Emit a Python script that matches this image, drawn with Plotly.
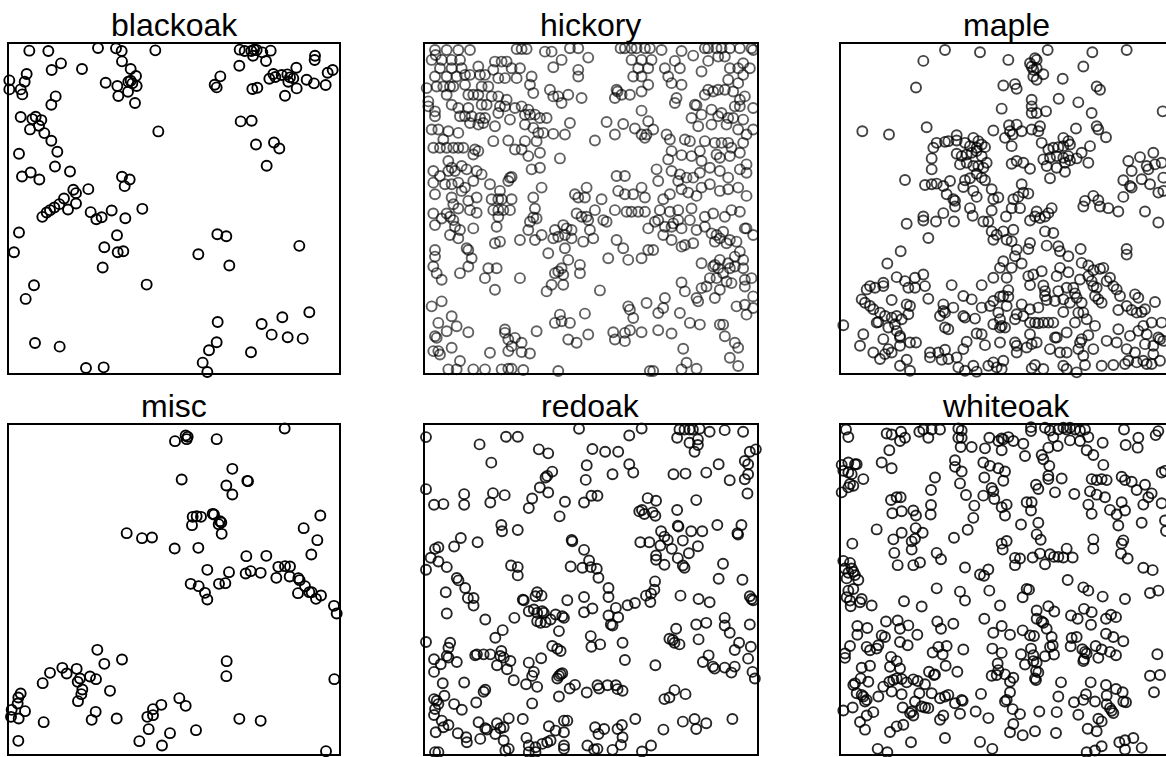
import plotly.graph_objects as go

# Tree locations in the Lansing Woods plot, one list per species.
# Coordinates on a 0-1000 scale per panel.
blackoak = [(61,966),(118,965),(267,974),(321,973),(338,965),(439,967),(156,928),(128,908),(219,911),(339,934),(365,911),(381,890),(53,896),(47,873),(1,877),(1,850),(35,850),(40,835),(290,870),(325,860),(358,873),(365,876),(370,868),(383,860),(357,843),(328,830),(378,809),(140,829),(127,804),(35,767),(70,761),(80,768),(97,758),(90,741),(63,730),(106,719),(127,696),(145,663),(30,657),(448,724),(138,619),(183,604),(65,601),(39,589),(91,580),(339,588),(362,580),(347,560),(238,551),(193,549),(201,539),(165,523),(151,506),(136,496),(123,488),(113,481),(100,468),(177,490),(201,508),(245,482),(262,461),(278,467),(308,487),(349,464),(400,492),(30,421),(15,362),(324,413),(286,377),(326,362),(343,365),(281,316),(413,265),(75,263),(50,222),(78,90),(152,79),(231,15),(284,17),
            (692,969),(707,965),(727,965),(735,969),(743,968),(732,951),(760,961),(785,966),(771,935),(691,921),(918,951),(917,938),(862,915),(634,889),(617,864),(623,856),(730,851),(745,855),(781,882),(793,896),(799,887),(818,893),(835,895),(843,886),(853,883),(838,873),(863,853),(828,831),(893,879),(915,868),(950,863),(956,900),(971,908),(695,754),(728,756),(741,685),(795,691),(811,673),(773,621),(625,416),(652,410),(568,356),(661,322),(871,381),(901,182),(820,167),(758,147),(788,115),(836,107),(881,103),(626,153),(623,92),(600,68),(726,62),(581,31),(595,3)]

misc = [(827,975),(498,937),(530,954),(536,950),(533,943),(623,943),(670,854),(518,822),(652,804),(670,777),(715,818),(717,817),(551,710),(563,712),(576,710),(549,685),(611,719),(615,717),(633,697),(637,693),(629,688),(638,659),(353,661),(399,646),(429,648),(497,615),(568,617),(934,714),(884,676),(925,640),(907,597),(712,592),(772,593),(595,551),(660,544),(710,540),(725,547),(755,542),(545,509),(569,502),(588,482),(595,462),(630,509),(649,511),(808,560),(828,562),(843,561),(802,527),(842,531),(868,526),(872,520),(888,502),(901,484),(908,484),(867,481),(921,464),(936,474),(975,443),(983,420),(265,311),(339,282),(286,269),(123,242),(101,211),(160,257),(173,240),(203,254),(243,231),(261,223),(213,225),(206,215),(220,192),(217,178),(207,157),(303,188),(35,180),(28,168),(26,150),(8,131),(6,110),(29,105),(48,127),(104,94),(260,125),(248,101),(323,105),(28,38),(653,277),(652,232),(976,223),(511,166),(530,143),(457,146),(432,133),(415,110),(432,115),(419,73),(391,37),(459,24),(483,61),(561,70),(691,104),(755,98),(951,7)]

hickory = [(30,982),(65,982),(100,982),(135,982),(32,967),(275,985),(290,985),(305,985),(360,977),(380,977),(410,952),(435,987),(460,987),(490,959),(587,987),(600,987),(620,987),(635,987),(660,987),(675,987),(710,982),(770,979),(805,965),(840,987),(850,987),(875,987),(890,987),(915,987),(945,987),(980,987),(880,962),(900,962),(985,982),
           (20,952),(50,952),(80,952),(105,952),(45,927),(80,927),(110,927),(160,932),(210,947),(230,947),(245,947),(205,922),(260,927),(285,927),(385,930),(460,922),(620,952),(650,952),(680,952),(640,927),(670,927),(720,927),(750,949),(765,927),(830,917),(850,949),(915,927),(940,927),(955,942),(975,927),
           (30,902),(65,902),(95,902),(120,907),(135,907),(165,907),(180,907),(220,897),(240,897),(275,897),(320,902),(460,902),(625,902),(650,902),(730,902),(910,892),(955,907),(940,882),
           (5,867),(35,872),(55,872),(75,872),(85,872),(120,877),(170,872),(190,872),(315,877),(670,877),(740,882),(770,877),(850,862),(880,862),(900,862),(925,857),
           (10,827),(65,847),(130,847),(145,847),(160,847),(200,842),(220,842),(245,832),(325,852),(375,862),(385,842),(400,842),(430,847),(470,837),(575,862),(578,857),(570,837),(590,847),(615,847),(650,857),(755,837),(750,822),(840,847),(865,857),(960,842),(945,832),
           (10,812),(30,797),(80,817),(100,807),(130,807),(170,817),(185,817),(225,812),(240,812),(270,807),(290,812),(310,802),(410,822),(810,817),(815,815),(860,802),(890,792),(930,812),(945,812),(985,807),
           (30,782),(105,782),(120,782),(140,782),(165,777),(180,777),(220,792),(255,772),(300,787),(315,787),(330,787),(345,777),(365,777),(435,762),(545,765),(595,759),(650,799),(670,767),(800,777),(830,787),(880,782),(910,777),(925,777),(955,772),
           (20,742),(40,742),(70,737),(100,732),(135,762),(160,757),(175,762),(210,752),(300,757),(325,747),(340,732),(355,732),(385,729),(420,727),(570,727),(630,745),(650,727),(665,727),(685,742),(725,727),(820,752),(860,757),(905,757),(940,742),(965,727),(985,742),
           (25,687),(45,687),(65,687),(85,687),(100,687),(115,687),(55,712),(205,707),(250,709),(270,682),(290,682),(300,707),(335,707),(510,709),(660,717),(735,712),(780,712),(795,707),(840,707),(870,702),(890,702),(910,702),(920,687),(955,702),(740,677),(150,682),
           (70,647),(145,667),(160,677),(310,662),(345,672),(405,655),(730,652),(770,665),(800,662),(825,677),(830,647),(875,667),(885,657),(915,662),(945,672),(965,637),(80,627),(110,632),(25,617),
           (45,602),(70,617),(90,617),(125,622),(155,617),(170,607),(255,597),(260,599),(320,622),(345,627),(575,602),(600,602),(695,622),(740,617),(765,607),(785,597),(805,597),(825,612),(855,627),(885,617),(910,597),(945,622),(965,612),(700,587),(760,587),
           (25,582),(60,577),(80,577),(100,582),(120,567),(145,587),(195,577),(225,557),(250,587),(350,567),(450,547),(460,537),(480,537),(485,567),(530,532),(580,557),(600,547),(625,547),(650,567),(660,537),(715,532),(735,547),(770,562),(790,552),(815,542),(830,567),(855,577),(885,557),(910,562),(940,567),(965,542),(110,557),(80,537),(30,547),
           (155,537),(200,532),(220,532),(230,532),(260,532),(325,537),(85,517),(130,527),
           (25,489),(65,489),(75,479),(100,504),(135,499),(155,491),(205,499),(220,499),(235,499),(255,499),(330,504),(220,479),(325,477),(455,489),(470,479),(485,479),(510,499),(570,499),(605,494),(620,494),(640,494),(660,494),(705,499),(735,494),(760,499),(800,504),(840,479),(865,489),(900,479),(920,499),(945,494),
           (30,454),(50,474),(85,469),(90,449),(105,439),(145,444),(215,449),(315,464),(335,474),(310,439),(390,439),(415,454),(425,444),(440,439),(490,469),(495,439),(535,469),(545,464),(670,444),(690,464),(700,469),(720,449),(740,449),(745,459),(760,469),(770,444),(795,469),(815,439),(840,449),(860,429),(875,424),(895,434),(915,409),(960,444),(985,424),
           (75,424),(100,414),(210,399),(225,404),(285,409),(330,409),(350,424),(385,414),(400,419),(420,424),(440,414),(475,404),(505,414),(575,409),(715,424),(740,409),(770,389),(780,394),(805,399),(870,404),(885,414),(905,399),(935,404),(965,444),
           (30,379),(30,359),(125,384),(130,379),(140,354),(370,369),(420,384),(430,349),(550,354),(595,384),(610,349),(650,354),(670,379),(685,379),(830,339),(870,334),(885,349),(910,339),(930,359),(945,374),(955,349),
           (25,329),(35,309),(50,289),(105,309),(130,329),(190,324),(215,324),(180,294),(285,294),(390,309),(400,314),(410,324),(415,304),(465,334),(465,309),(865,329),(880,324),(895,309),(915,324),(930,329),(955,324),(855,294),(875,294),(905,284),(920,279),(960,289),(980,294),
           (210,259),(365,254),(380,274),(415,274),(525,257),(770,281),(780,254),(830,264),(845,269),(885,259),(960,269),(815,234),(820,224),(870,234),(985,239),
           (20,209),(50,224),(610,209),(615,199),(665,219),(715,204),(720,234),(700,189),(765,189),(935,209),(960,214),(985,204),(965,184),(80,179),(405,184),(480,187),(625,174),
           (40,159),(65,134),(95,149),(130,131),(240,139),(240,129),(335,134),(390,159),(410,164),(435,159),(490,124),(565,131),(570,109),(600,129),(615,137),(650,131),(700,137),(740,127),(795,159),(825,154),(885,154),(895,154),(900,119),(30,119),
           (35,114),(250,109),(270,114),(290,99),(430,109),(455,99),(600,104),(80,84),(25,74),(40,74),(45,64),(250,74),(260,89),(195,69),(290,71),(315,67),(775,81),(930,99),(940,84),(915,54),
           (105,44),(70,19),(95,19),(145,19),(180,19),(180,4),(230,19),(250,21),(260,21),(295,17),(400,14),(675,14),(685,14),(770,19),(785,39),(815,21),(940,29)]

maple = [(312,982),(417,975),(502,952),(247,949),(567,942),(582,957),(587,952),(620,982),(754,975),(857,982),(727,932),
         (572,932),(577,922),(587,927),(607,909),(577,902),(587,892),(665,895),(487,875),(522,879),(527,865),(225,869),(767,872),(777,862),
         (572,832),(572,812),(572,792),(587,792),(615,797),(653,835),(712,824),(752,792),(482,805),(965,797),
         (64,737),(144,727),(257,749),(457,739),(504,755),(527,757),(507,737),(515,727),(542,737),(572,742),(597,752),(592,737),(705,745),(767,752),(772,742),(795,719),(492,717),(667,717),(682,707),(347,725),
         (287,702),(312,705),(322,707),(277,687),(347,709),(372,702),(397,717),(412,707),(387,692),(407,687),(422,697),(432,689),(512,692),(602,702),(622,682),(637,687),(652,689),(667,692),(687,697),(747,692),
         (272,655),(347,669),(362,662),(377,667),(392,672),(407,677),(422,662),(357,637),(377,642),(397,632),(412,632),(427,627),(437,642),(512,639),(527,647),(547,642),(567,624),(607,652),(627,657),(647,662),(667,657),(682,662),(617,632),(647,627),(672,642),(687,649),(707,655),(722,672),(742,642),(862,647),(897,659),(917,632),(937,672),(942,637),(962,642),(272,622),
         (192,590),(252,575),(272,577),(287,579),(307,572),(327,587),(372,589),(387,595),(407,609),(422,597),(432,589),(627,595),(672,615),(847,589),(872,617),(902,592),(922,622),(967,597),(867,572),(872,567),(927,577),
         (317,547),(342,527),(337,532),(367,569),(397,557),(407,539),(452,562),(457,532),(472,537),(517,532),(532,539),(542,577),(547,552),(562,549),(732,527),(757,542),(772,529),(847,539),(952,552),(967,557),
         (247,480),(247,468),(197,458),(285,465),(307,490),(339,465),(342,510),(387,505),(395,482),(427,465),(442,465),(452,498),(495,480),(512,505),(537,505),(567,468),(582,480),(587,495),(597,475),(612,480),(622,490),(632,505),(727,510),(777,510),(802,505),(832,495),(912,495),(952,462),
         (262,415),(452,435),(467,425),(457,410),(487,435),(517,440),(497,410),(512,405),(527,380),(522,360),(567,400),(562,382),(612,435),(637,430),(617,392),(652,390),(657,375),(682,360),(719,382),(857,382),(857,365),(179,375),
         (139,338),(487,345),(542,338),(477,325),(512,325),(657,325),(682,312),(722,340),(742,332),(757,318),(777,322),(787,325),(602,315),(577,305),(562,300),
         (77,260),(87,270),(102,265),(127,280),(127,270),(167,297),(192,285),(202,265),(222,295),(247,305),(252,270),(222,265),(332,273),(422,273),(457,295),(497,295),(502,258),(567,273),(607,272),(612,255),(647,300),(652,255),(677,265),(697,265),(702,248),(717,290),(742,300),(752,285),(757,270),(767,265),(807,295),(797,285),(817,270),(827,260),
         (62,230),(72,220),(87,210),(97,200),(152,228),(197,215),(207,210),(262,232),(367,240),(392,230),(477,238),(487,240),(502,238),(457,225),(422,205),(447,210),(497,210),(542,215),(567,200),(592,205),(612,240),(617,228),(642,225),(667,230),(687,220),(707,235),(722,220),(727,190),(762,240),(772,230),(782,220),(837,240),(857,210),(882,245),(892,235),(942,222),
         (7,152),(117,190),(132,180),(107,160),(112,162),(152,175),(167,180),(182,170),(202,185),(142,145),(162,155),(307,195),(312,190),(307,215),(337,205),(297,180),(367,180),(372,175),(402,172),(472,190),(477,170),(522,170),(527,185),(547,180),(567,160),(582,160),(592,158),(607,160),(622,160),(637,160),(667,192),(702,160),(712,190),(737,170),(832,198),(872,198),(887,190),(902,192),(912,200),(932,160),(962,160),
         (67,125),(167,135),(177,120),(312,145),(322,140),(407,127),(422,125),(457,155),(482,150),(492,145),(477,145),(567,125),(642,115),(677,130),(722,110),(742,122),(762,150),(832,140),(867,120),(892,135),(907,150),(917,125),(952,115),(967,105),
         (57,90),(97,70),(127,110),(142,80),(177,115),(177,90),(207,100),(225,100),(267,70),(292,70),(312,78),(322,50),(347,55),(367,80),(377,102),(432,92),(477,100),(522,100),(527,90),(557,85),(572,95),(587,100),(527,70),(627,80),(647,115),(657,70),(677,70),(712,80),(717,100),(757,80),(797,105),(827,100),(857,80),(882,70),(912,95),(937,90),(957,110),
         (117,50),(132,65),(152,70),(177,30),(197,48),(207,15),(267,55),(302,48),(352,25),(372,15),(397,30),(407,12),(442,30),(457,40),(467,25),(482,20),(487,45),(572,22),(582,32),(607,20),(667,30),(677,20),(707,10),(727,60),(732,32),(782,30),(817,32),(852,35),(862,45),(887,40),(907,45),(917,35),(937,65),(932,35),(957,45)]

redoak = [(3,962),(163,940),(242,963),(277,963),(460,987),(610,967),(647,988),(753,960),(760,985),(775,985),(790,985),(800,985),(820,987),(850,978),(895,983),(950,978),(790,945),(815,955),(815,938),(805,918),
          (198,885),(340,925),(368,913),(500,926),(538,918),(577,918),(483,877),(610,880),(622,855),(560,850),(380,858),(360,840),(365,845),(480,833),(742,850),(778,852),(840,855),(877,880),(970,918),(988,925),(955,890),(965,880),(965,850),(955,835),(910,832),
          (3,805),(117,790),(203,793),(238,787),(195,765),(343,810),(368,795),(320,777),(310,748),(418,767),(475,765),(497,785),(515,785),(27,758),(55,760),(117,758),(665,778),(690,770),(640,738),(648,742),(655,730),(680,735),(688,725),(753,742),(810,772),(963,792),(402,723),
          (228,697),(230,678),(277,682),(755,695),(757,692),(795,678),(828,678),(873,697),(945,697),(935,668),(933,672),(705,678),(715,662),(725,652),(737,625),(770,650),(815,633),(703,635),(670,645),(643,645),(107,658),(157,645),(438,652),(440,648),(87,632),(30,625),(40,630),(17,598),(475,622),
          (690,605),(690,592),(755,597),(788,612),(715,577),(770,575),(775,568),(890,580),(40,587),(65,570),(3,562),(257,575),(277,570),(277,545),(435,572),(470,568),(490,590),(495,570),(513,565),
          (95,537),(100,530),(518,538),(687,527),(877,535),(948,532),
          (62,494),(120,507),(128,477),(145,477),(145,454),(292,472),(295,470),(330,482),(335,494),(348,484),(425,470),(475,480),(548,480),(548,507),(605,455),(627,462),(660,484),(675,490),(685,502),(673,465),(763,484),(817,474),(850,464),(970,482),(975,474),(980,470),
          (65,430),(180,412),(267,417),(310,437),(325,442),(335,432),(350,437),(355,432),(335,407),(345,402),(360,404),(375,412),(390,427),(410,422),(415,417),(475,434),(500,445),(548,424),(570,447),(577,419),(555,397),(560,394),(400,377),(232,380),(210,357),(750,384),(810,397),(840,402),(895,417),(895,394),(910,372),(970,397),
          (3,344),(75,342),(70,327),(495,362),(497,330),(523,337),(590,342),(730,354),(740,350),(745,342),(760,337),(817,352),(938,342),(973,330),(380,332),(395,324),(405,317),(228,317),
          (27,292),(65,302),(70,297),(47,277),(95,284),(150,304),(155,307),(175,307),(195,307),(225,302),(235,297),(255,287),(215,274),(310,282),(347,295),(597,290),(688,274),(830,284),(847,304),(860,270),(865,264),(895,267),(915,252),(925,270),(925,320),(965,294),(27,254),(245,262),
          (320,242),(325,254),(400,242),(405,247),(410,250),(395,234),(265,229),(302,217),(335,209),(53,220),(117,222),(180,200),(175,194),(432,204),(448,215),(483,192),(515,214),(520,204),(545,214),(570,214),(575,202),(590,197),(978,254),(985,234),
          (27,172),(35,167),(40,157),(30,142),(58,182),(87,157),(110,140),(153,162),(320,159),(400,180),(715,172),(730,177),(745,199),(778,187),(27,124),
          (50,107),(70,94),(55,87),(32,72),(98,69),(160,102),(180,84),(185,80),(215,99),(225,84),(235,87),(210,67),(250,114),(292,112),(370,90),(390,77),(415,107),(425,107),(415,72),(508,87),(535,82),(518,67),(575,82),(588,94),(628,112),(712,80),(770,104),(805,112),(810,82),(840,99),(918,112),
          (123,57),(125,42),(165,52),(235,47),(240,17),(250,22),(303,55),(310,32),(330,27),(350,37),(365,42),(375,47),(310,12),(330,12),(415,32),(415,22),(485,32),(505,20),(515,22),(560,19),(590,57),(585,34),(648,14),(675,32),(30,12),(40,12),(130,7)]

whiteoak = [(15,985),(22,962),(137,973),(152,970),(180,978),(192,960),(177,950),(235,978),(247,985),(262,960),(272,985),(297,985),(352,988),(362,982),(352,960),(362,960),(359,932),(392,932),(432,928),(445,960),(472,950),(482,958),(487,955),(502,962),(482,922),(517,950),(547,942),(570,992),(570,980),(612,990),(627,982),(637,962),(652,985),(667,990),(677,985),(687,990),(702,985),(717,982),(732,985),(742,962),(687,952),(717,950),(785,945),(849,985),(854,938),(892,960),(890,930),(944,968),(952,980),(622,930),(650,935),(145,922),
            (552,905),(602,908),(607,895),(625,875),(737,922),(757,908),(787,878),(122,885),(152,868),(342,892),(342,872),(362,858),(427,885),(447,875),(472,868),(492,858),(487,830),(430,840),(282,840),(357,822),(622,845),(622,835),(662,837),(752,835),(767,832),(782,835),(797,832),(842,842),(852,832),(872,827),(972,860),(962,855),
            (2,878),(22,885),(42,880),(47,880),(7,860),(22,855),(32,850),(27,820),(22,810),(37,815),(2,795),(67,835),
            (585,818),(592,805),(642,795),(700,790),(747,798),(767,788),(792,780),(887,802),(912,818),(932,792),(922,780),(962,762),(452,808),(457,798),(427,785),(460,775),(375,787),(400,755),(397,718),(482,750),(497,758),(492,725),(270,802),(270,757),(269,728),(150,772),(167,780),(179,780),(154,732),(182,738),(217,740),(225,725),(557,765),(572,765),(570,740),(742,758),(752,730),(807,742),(827,728),(842,765),(852,740),(907,758),
            (107,683),(182,673),(157,653),(212,647),(222,655),(224,687),(245,673),(212,622),(339,658),(380,682),(540,698),(592,703),(587,668),(599,652),(832,695),(902,703),(972,710),(975,678),(482,640),(497,648),(485,622),(757,653),(757,625),(847,650),(842,640),(34,640),
            (160,612),(170,575),(217,575),(237,583),(287,612),(300,593),(372,568),(417,547),(429,543),(442,562),(522,597),(537,595),(522,575),(575,598),(597,610),(612,578),(627,608),(639,600),(652,600),(667,598),(677,625),(695,598),(840,610),(860,595),(907,567),(935,560),(7,588),(27,582),(12,565),(22,552),(32,565),(37,555),(42,545),(17,535),(52,530),
            (680,530),
            (22,498),(37,503),(17,478),(27,468),(62,473),(57,463),(29,451),(92,453),(189,466),(242,450),(287,505),(357,495),(372,468),(445,498),(477,453),(545,478),(557,503),(564,501),(587,438),(622,451),(640,435),(727,508),(742,498),(785,480),(852,473),(927,491),(952,498),
            (49,391),(79,385),(135,405),(170,408),(177,383),(202,393),(289,405),(300,383),(337,398),(430,413),(482,391),(457,371),(507,365),(545,378),(567,363),(579,361),(587,413),(602,405),(607,401),(617,383),(690,423),(710,413),(729,443),(752,433),(750,395),(795,413),(810,425),(825,418),(795,368),(817,358),(847,345),(632,358),(692,355),(707,358),(229,365),(49,365),(122,363),(132,358),
            (12,308),(27,331),(12,295),(77,328),(87,318),(107,323),(112,333),(177,343),(200,333),(275,311),(292,328),(305,305),(317,331),(367,320),(454,323),(482,310),(540,306),(570,323),(577,303),(612,300),(627,328),(635,333),(639,305),(689,330),(724,321),(732,313),(737,308),(764,331),(782,320),(807,313),(825,303),(949,306),(150,298),(167,285),
            (62,265),(87,271),(147,268),(177,263),(264,253),(279,243),(282,245),(314,271),(349,253),(470,278),(472,258),(452,241),(467,243),(492,245),(517,235),(552,275),(577,285),(587,281),(585,255),(592,251),(582,233),(585,228),(727,285),(729,291),(772,295),(927,241),(957,243),
            (37,213),(42,218),(59,233),(82,223),(127,208),(145,223),(157,228),(167,233),(182,231),(197,221),(217,230),(230,225),(252,215),(152,193),(182,185),(235,188),(272,188),(47,188),(62,183),(67,178),(77,168),(112,178),(297,173),(312,178),(322,183),(362,168),(365,165),(420,186),(507,223),(507,191),(660,221),(652,178),(749,221),(795,213),(825,201),(845,191),(797,181),(727,168),(735,185),(939,191),
            (7,136),(35,145),(72,163),(97,131),(77,121),(185,145),(207,128),(212,133),(217,121),(222,163),(242,148),(252,145),(262,143),(297,108),(307,121),(342,158),(357,126),(404,133),(442,113),(492,163),(497,168),(515,140),(537,125),(595,133),(647,131),(699,161),(712,123),(762,163),(797,155),(807,143),(812,135),(817,128),(847,163),(855,161),
            (57,101),(72,78),(147,71),(167,88),(187,93),(210,40),(110,20),(139,10),(312,53),(417,41),(454,20),(507,70),(517,95),(545,61),(582,73),(645,68),(740,81),(767,73),(772,111),(782,103),(737,10),(762,15),(782,28),(835,40),(852,46),(852,18),(877,53),(902,23)]

species = ["blackoak", "hickory", "maple", "misc", "redoak", "whiteoak"]
points = [blackoak, hickory, maple, misc, redoak, whiteoak]

W, H = 1166, 757
col_px = [(9, 339), (425, 756.5), (841, 1166)]
row_px = [(44, 373), (424.5, 753.5)]
x_ranges = [[0, 990], [0, 995], [0, 975], [0, 990], [0, 990], [0, 975]]
y_ranges = [[0, 986], [8, 1000], [8, 1000], [0, 987], [8, 1000], [6, 1000]]
stroke = ["rgba(0,0,0,1)", "rgba(0,0,0,0.62)", "rgba(0,0,0,0.74)",
          "rgba(0,0,0,1)", "rgba(0,0,0,0.85)", "rgba(0,0,0,0.85)"]

fig = go.Figure()
for i, (name, pts) in enumerate(zip(species, points)):
    r, c = divmod(i, 3)
    k = "" if i == 0 else str(i + 1)
    xs = [p[0] for p in pts]
    ys = [p[1] for p in pts]
    fig.add_trace(go.Scatter(
        x=xs, y=ys, mode="markers", xaxis="x" + k, yaxis="y" + k,
        cliponaxis=False, hoverinfo="skip", showlegend=False,
        marker=dict(symbol="circle-open", size=10, color=stroke[i],
                    line=dict(width=1.9, color=stroke[i]))))
    x0, x1 = col_px[c]
    y0, y1 = row_px[r]
    xd = [x0 / W, min(1.0, x1 / W)]
    yd = [1 - y1 / H, 1 - y0 / H]
    last_col = (c == 2)
    fig.layout["xaxis" + k] = dict(
        domain=xd, range=x_ranges[i], showgrid=False, zeroline=False,
        showticklabels=False, ticks="", showline=True, mirror=True,
        linecolor="black", linewidth=1.8, anchor="y" + k, fixedrange=True)
    fig.layout["yaxis" + k] = dict(
        domain=yd, range=y_ranges[i], showgrid=False, zeroline=False,
        showticklabels=False, ticks="", showline=True,
        mirror=(not last_col), linecolor="black", linewidth=1.8,
        anchor="x" + k, fixedrange=True)
    cx = (x0 + (x0 + 330)) / 2 / W
    cy = 1 - (y0 - 19) / H
    fig.add_annotation(text=name, xref="paper", yref="paper", x=cx, y=cy,
                       xanchor="center", yanchor="middle", showarrow=False,
                       font=dict(family="Liberation Sans, Arial, sans-serif",
                                 size=32, color="black"))

fig.update_layout(width=W, height=H, margin=dict(l=0, r=0, t=0, b=0),
                  paper_bgcolor="white", plot_bgcolor="white",
                  hovermode=False, showlegend=False)

fig.write_html("out.html", config={"displayModeBar": False})
